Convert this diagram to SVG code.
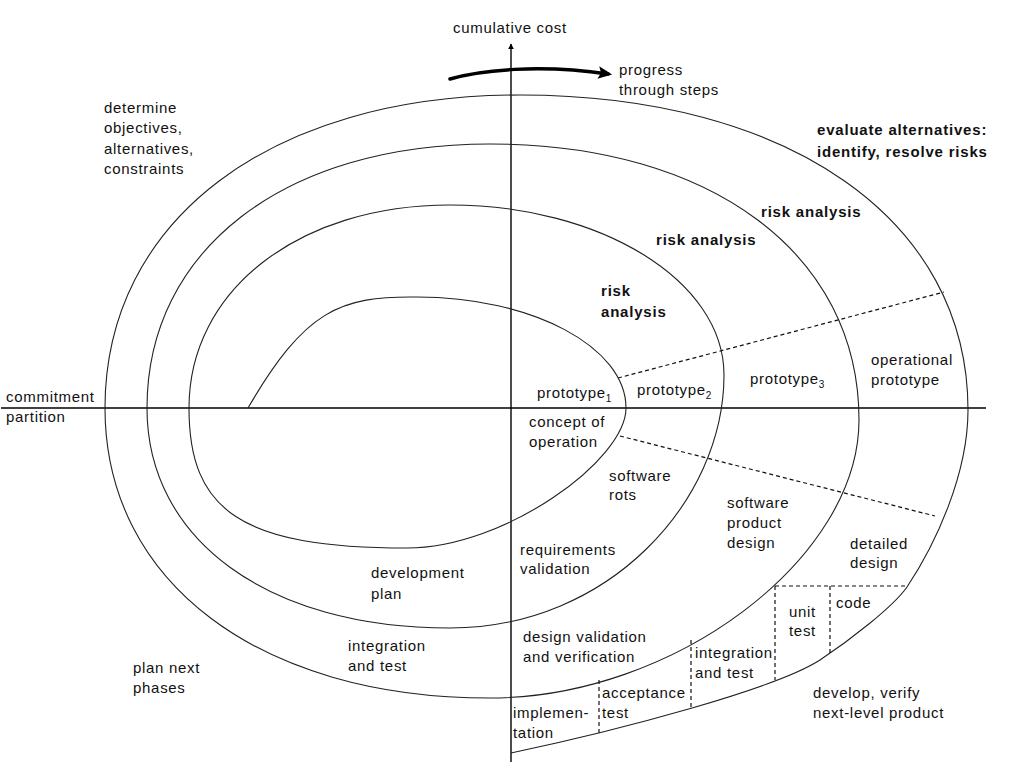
<svg xmlns="http://www.w3.org/2000/svg" width="1024" height="768" viewBox="0 0 1024 768">
<style>
.t{font-family:"Liberation Sans",Arial,sans-serif;font-size:15px;fill:#111;letter-spacing:0.7px}
.b{font-family:"Liberation Sans",Arial,sans-serif;font-size:15px;font-weight:bold;fill:#111;letter-spacing:0.8px}
.sub{font-size:10px;letter-spacing:0}
.ax{stroke:#000;stroke-width:1.4;fill:none}
.sp{stroke:#222;stroke-width:1.1;fill:none}
.d{stroke:#111;stroke-width:1.2;fill:none;stroke-dasharray:4 3}
</style>
<defs>
<marker id="ah" viewBox="0 0 10 10" refX="9" refY="5" markerWidth="6" markerHeight="7" markerUnits="userSpaceOnUse" orient="auto">
<path d="M0,0 L10,5 L0,10 z" fill="#000"/>
</marker>
<marker id="ah2" viewBox="0 0 10 10" refX="7" refY="5" markerWidth="14" markerHeight="14" markerUnits="userSpaceOnUse" orient="auto">
<path d="M0,0.5 L10,5 L0,9.5 L2,5 z" fill="#000"/>
</marker>
</defs>
<rect width="1024" height="768" fill="#fff"/>
<g id="connectors">
<line id="axis-x" class="ax" x1="1" y1="408" x2="986" y2="408"/>
<line id="axis-y" class="ax" x1="511" y1="762" x2="511" y2="44" marker-end="url(#ah)"/>
<path id="spiral" class="sp" d="M248,408 C305,310 340,296 417,297 C532,297 626,347 626,408 C626,460 505,548 407,548 C240,548 189,510 189,408 C189,290 299,205 450,205 C601,205 724,281 724,375 C724,501 609,628 450,628 C268,628 147,540 147,408 C147,250 284,144 490,144 C711,144 859,254 859,420 C859,559 674,698 490,698 C259,698 105,582 105,408 C105,220 271,95 520,95 C789,95 968,220 968,410 C968,475 935,545 907,587 C893,607 850,640 820,660 C775,689 620,730 511,753"/>
<line class="d" x1="618" y1="378" x2="944" y2="292"/>
<line class="d" x1="620" y1="436" x2="935" y2="516"/>
<line class="d" x1="775" y1="586" x2="907" y2="586"/>
<line class="d" x1="775" y1="586" x2="775" y2="680"/>
<line class="d" x1="830" y1="586" x2="830" y2="653"/>
<line class="d" x1="691" y1="640" x2="691" y2="709"/>
<line class="d" x1="599" y1="680" x2="599" y2="733"/>
<path id="progress-arrow" d="M450,79 C480,70 540,64 608,74" stroke="#000" stroke-width="3.5" fill="none" stroke-linecap="round" marker-end="url(#ah2)"/>
</g>
<g id="label-cost"><text class="t" x="453" y="33">cumulative cost</text></g>
<g id="label-progress"><text class="t" x="619" y="75">progress</text><text class="t" x="619" y="95">through steps</text></g>
<g id="label-determine"><text class="t" x="104" y="113">determine</text><text class="t" x="104" y="133">objectives,</text><text class="t" x="104" y="154">alternatives,</text><text class="t" x="104" y="174">constraints</text></g>
<g id="label-evaluate"><text class="b" x="817" y="135">evaluate alternatives:</text><text class="b" x="817" y="157">identify, resolve risks</text></g>
<g id="label-risk3"><text class="b" x="761" y="217">risk analysis</text></g>
<g id="label-risk2"><text class="b" x="656" y="245">risk analysis</text></g>
<g id="label-risk1"><text class="b" x="601" y="296">risk</text><text class="b" x="601" y="317">analysis</text></g>
<g id="label-commitment"><text class="t" x="6" y="402">commitment</text><text class="t" x="6" y="422">partition</text></g>
<g id="label-proto1"><text class="t" x="537" y="398">prototype<tspan class="sub" dy="4">1</tspan></text></g>
<g id="label-proto2"><text class="t" x="637" y="395">prototype<tspan class="sub" dy="4">2</tspan></text></g>
<g id="label-proto3"><text class="t" x="750" y="384">prototype<tspan class="sub" dy="4">3</tspan></text></g>
<g id="label-opproto"><text class="t" x="871" y="365">operational</text><text class="t" x="871" y="385">prototype</text></g>
<g id="label-concept"><text class="t" x="529" y="427">concept of</text><text class="t" x="529" y="447">operation</text></g>
<g id="label-rots"><text class="t" x="609" y="481">software</text><text class="t" x="609" y="500">rots</text></g>
<g id="label-spd"><text class="t" x="727" y="508">software</text><text class="t" x="727" y="528">product</text><text class="t" x="727" y="548">design</text></g>
<g id="label-detailed"><text class="t" x="850" y="549">detailed</text><text class="t" x="850" y="568">design</text></g>
<g id="label-reqval"><text class="t" x="520" y="555">requirements</text><text class="t" x="520" y="574">validation</text></g>
<g id="label-devplan"><text class="t" x="371" y="578">development</text><text class="t" x="371" y="599">plan</text></g>
<g id="label-inttest1"><text class="t" x="348" y="651">integration</text><text class="t" x="348" y="671">and test</text></g>
<g id="label-plannext"><text class="t" x="133" y="673">plan next</text><text class="t" x="133" y="693">phases</text></g>
<g id="label-dvv"><text class="t" x="523" y="642">design validation</text><text class="t" x="523" y="662">and verification</text></g>
<g id="label-impl"><text class="t" x="513" y="718">implemen-</text><text class="t" x="513" y="738">tation</text></g>
<g id="label-accept"><text class="t" x="602" y="698">acceptance</text><text class="t" x="602" y="718">test</text></g>
<g id="label-inttest2"><text class="t" x="695" y="658">integration</text><text class="t" x="695" y="678">and test</text></g>
<g id="label-unit"><text class="t" x="789" y="617">unit</text><text class="t" x="789" y="636">test</text></g>
<g id="label-code"><text class="t" x="836" y="608">code</text></g>
<g id="label-develop"><text class="t" x="813" y="698">develop, verify</text><text class="t" x="813" y="718">next-level product</text></g>
</svg>
